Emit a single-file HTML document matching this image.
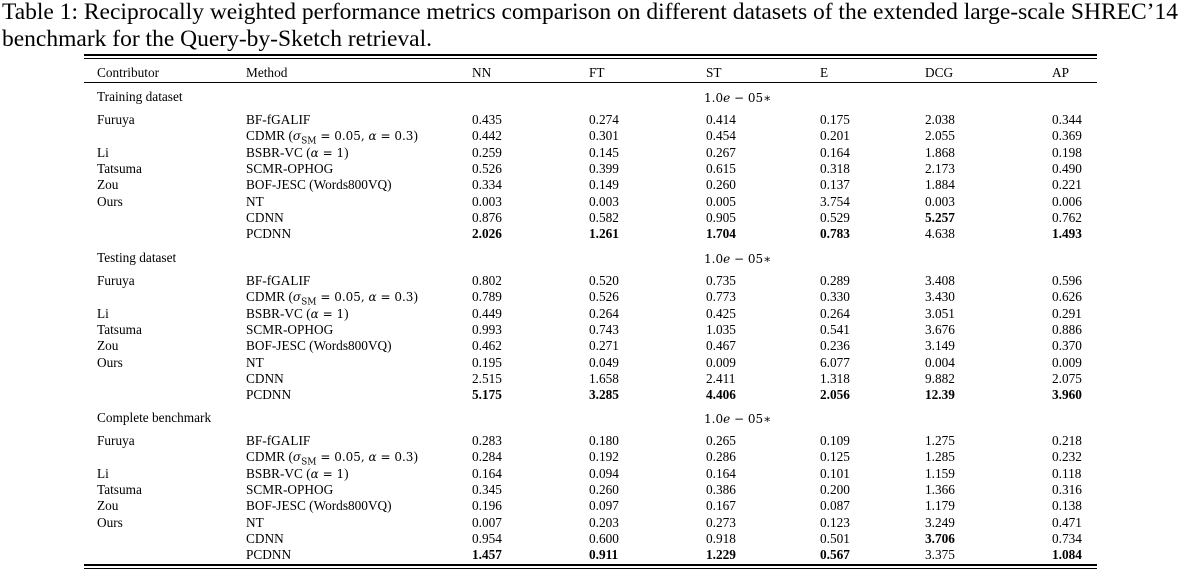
<!DOCTYPE html>
<html><head><meta charset="utf-8">
<style>
body{margin:0;width:1183px;height:576px;background:#fff;overflow:hidden;position:relative;font-family:"Liberation Serif",serif;color:#000}
.cap{position:absolute;left:2px;font-size:23.5px;line-height:27px;white-space:nowrap}
.t{position:absolute;font-size:13.3px;line-height:14px;white-space:nowrap;transform:translateY(-7px)}
.r{position:absolute;left:84px;width:1013px;background:#000}
.b{font-weight:bold}
.m{font-family:"DejaVu Serif","Liberation Serif",serif;font-size:12px}
</style></head><body>
<div class="cap" style="top:-1px">Table 1: Reciprocally weighted performance metrics comparison on different datasets of the extended large-scale SHREC’14</div>
<div class="cap" style="top:26px">benchmark for the Query-by-Sketch retrieval.</div>
<div class="r" style="top:54px;height:1.5px"></div>
<div class="r" style="top:58px;height:1px"></div>
<div class="r" style="top:82px;height:1px"></div>
<div class="r" style="top:564px;height:1.5px"></div>
<div class="r" style="top:568px;height:1px"></div>
<div id="tb"></div>
<script>
const headers=["Contributor","Method","NN","FT","ST","E","DCG","AP"];
const sections=["Training dataset","Testing dataset","Complete benchmark"];
const contributors=["Furuya","","Li","Tatsuma","Zou","Ours","",""];
const methods=["BF-fGALIF","CDMR","BSBR-VC","SCMR-OPHOG","BOF-JESC (Words800VQ)","NT","CDNN","PCDNN"];
const trainVals=[
["0.435","0.274","0.414","0.175","2.038","0.344"],
["0.442","0.301","0.454","0.201","2.055","0.369"],
["0.259","0.145","0.267","0.164","1.868","0.198"],
["0.526","0.399","0.615","0.318","2.173","0.490"],
["0.334","0.149","0.260","0.137","1.884","0.221"],
["0.003","0.003","0.005","3.754","0.003","0.006"],
["0.876","0.582","0.905","0.529","5.257","0.762"],
["2.026","1.261","1.704","0.783","4.638","1.493"]];
const testVals=[
["0.802","0.520","0.735","0.289","3.408","0.596"],
["0.789","0.526","0.773","0.330","3.430","0.626"],
["0.449","0.264","0.425","0.264","3.051","0.291"],
["0.993","0.743","1.035","0.541","3.676","0.886"],
["0.462","0.271","0.467","0.236","3.149","0.370"],
["0.195","0.049","0.009","6.077","0.004","0.009"],
["2.515","1.658","2.411","1.318","9.882","2.075"],
["5.175","3.285","4.406","2.056","12.39","3.960"]];
const fullVals=[
["0.283","0.180","0.265","0.109","1.275","0.218"],
["0.284","0.192","0.286","0.125","1.285","0.232"],
["0.164","0.094","0.164","0.101","1.159","0.118"],
["0.345","0.260","0.386","0.200","1.366","0.316"],
["0.196","0.097","0.167","0.087","1.179","0.138"],
["0.007","0.203","0.273","0.123","3.249","0.471"],
["0.954","0.600","0.918","0.501","3.706","0.734"],
["1.457","0.911","1.229","0.567","3.375","1.084"]];
const boldTrain=[[7,0],[7,1],[7,2],[7,3],[6,4],[7,5]];
const boldTest=[[7,0],[7,1],[7,2],[7,3],[7,4],[7,5]];
const boldFull=[[7,0],[7,1],[7,2],[7,3],[6,4],[7,5]];
const colX=[97,246,472,589,706,820,925,1052];
const tb=document.getElementById('tb');
function put(x,y,html,name,cls){const d=document.createElement('div');d.className='t '+(cls||'');d.style.left=x+'px';d.style.top=y+'px';d.innerHTML=html;


tb.appendChild(d);return d;}
headers.forEach((h,i)=>put(colX[i],73,h,'header-'+h.toLowerCase()));
const allVals=[trainVals,testVals,fullVals],allBold=[boldTrain,boldTest,boldFull];
const secY=[97,258,418];
sections.forEach((s,si)=>{
 const y0=secY[si];
 put(colX[0],y0,s,'section-title-'+si);
 put(704,y0+1,'1.0<i>e</i> − 05∗','scale-note-'+si,'m');
 for(let r=0;r<8;r++){
  const y=y0+23+r*16.3;
  if(contributors[r])put(colX[0],y,contributors[r],'contributor-'+contributors[r].toLowerCase());
  let m=methods[r];
  if(r==1)m='CDMR (<span class="m"><i>σ</i><sub style="font-size:9px">SM</sub> = 0.05, <i>α</i> = 0.3</span>)';
  if(r==2)m='BSBR-VC (<span class="m"><i>α</i> = 1</span>)';
  put(colX[1],y,m,'method-'+methods[r].toLowerCase().replace(/[^a-z0-9]+/g,'-'));
  for(let c=0;c<6;c++){
   const b=allBold[si].some(p=>p[0]==r&&p[1]==c);
   put(colX[c+2],y,allVals[si][r][c],'cell-'+headers[c+2].toLowerCase(),b?'b':'');
  }
 }
});
</script>
</body></html>
